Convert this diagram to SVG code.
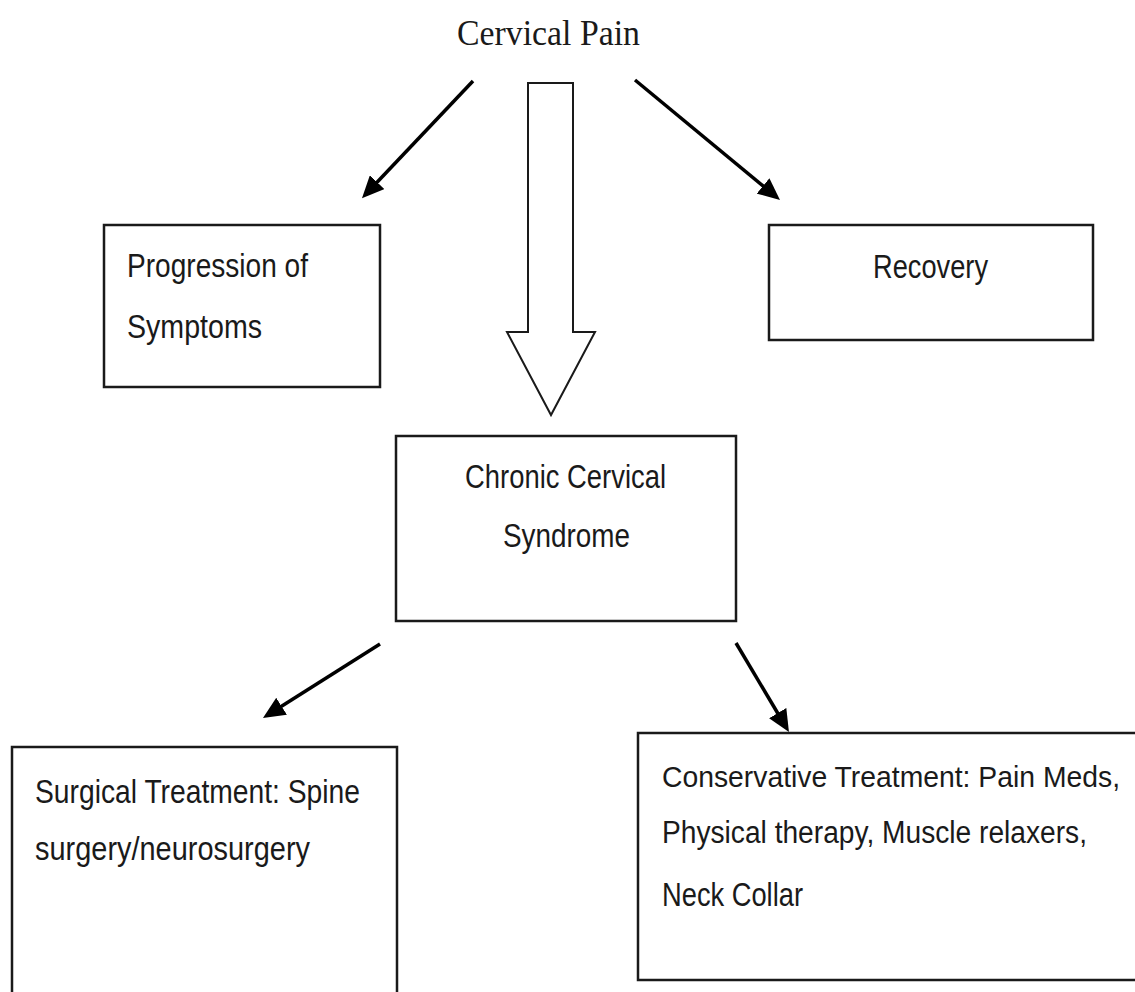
<svg xmlns="http://www.w3.org/2000/svg" width="1135" height="992" viewBox="0 0 1135 992">
<style>
.box{fill:#fff;stroke:#1a1a1a;stroke-width:2.5}
.lbl{font-family:"Liberation Sans Narrow","Liberation Sans",Arial,sans-serif;font-size:34px;fill:#1a1a1a}
.sm{font-size:31px}
.xs{font-size:29px}
.ttl{font-family:"Liberation Serif","Times New Roman",serif;font-size:35px;fill:#1a1a1a}
.con{stroke:#000;stroke-width:3.5;fill:none;marker-end:url(#ah)}
</style>
<defs>
<marker id="ah" markerUnits="userSpaceOnUse" markerWidth="24" markerHeight="20" refX="8" refY="10" orient="auto">
<path d="M0,0 L22,10 L0,20 z" fill="#000"/>
</marker>
</defs>
<rect width="1135" height="992" fill="#fff"/>
<g id="connectors">
<line class="con" x1="473" y1="81" x2="371.6" y2="188"/>
<line class="con" x1="635" y1="80" x2="769.2" y2="191"/>
<line class="con" x1="380" y1="644" x2="274.8" y2="710.5"/>
<line class="con" x1="736" y1="643" x2="781.8" y2="720"/>
<polygon id="block-arrow" points="528,83 573,83 573,332 595,332 551,415 507,332 528,332" fill="#fff" stroke="#1a1a1a" stroke-width="2"/>
</g>
<g id="cervical-pain">
<text class="ttl" x="457" y="45" textLength="183" lengthAdjust="spacingAndGlyphs">Cervical Pain</text>
</g>
<g id="progression">
<rect class="box" x="104" y="225" width="276" height="162"/>
<text class="lbl" x="127" y="277" textLength="181" lengthAdjust="spacingAndGlyphs">Progression of</text>
<text class="lbl" x="127" y="338" textLength="135" lengthAdjust="spacingAndGlyphs">Symptoms</text>
</g>
<g id="recovery">
<rect class="box" x="769" y="225" width="324" height="115"/>
<text class="lbl" x="873" y="278" textLength="115" lengthAdjust="spacingAndGlyphs">Recovery</text>
</g>
<g id="chronic">
<rect class="box" x="396" y="436" width="340" height="185"/>
<text class="lbl" x="465" y="488" textLength="201" lengthAdjust="spacingAndGlyphs">Chronic Cervical</text>
<text class="lbl" x="503" y="547" textLength="127" lengthAdjust="spacingAndGlyphs">Syndrome</text>
</g>
<g id="surgical">
<path class="box" d="M12,992 V747 H397 V992"/>
<text class="lbl" x="35" y="803" textLength="325" lengthAdjust="spacingAndGlyphs">Surgical Treatment: Spine</text>
<text class="lbl" x="35" y="860" textLength="275" lengthAdjust="spacingAndGlyphs">surgery/neurosurgery</text>
</g>
<g id="conservative">
<path class="box" d="M1135,733 H638 V980 H1135"/>
<text class="lbl xs" x="662" y="787" textLength="458" lengthAdjust="spacingAndGlyphs">Conservative Treatment: Pain Meds,</text>
<text class="lbl sm" x="662" y="843" textLength="425" lengthAdjust="spacingAndGlyphs">Physical therapy, Muscle relaxers,</text>
<text class="lbl" x="662" y="906" textLength="141" lengthAdjust="spacingAndGlyphs">Neck Collar</text>
</g>
</svg>
